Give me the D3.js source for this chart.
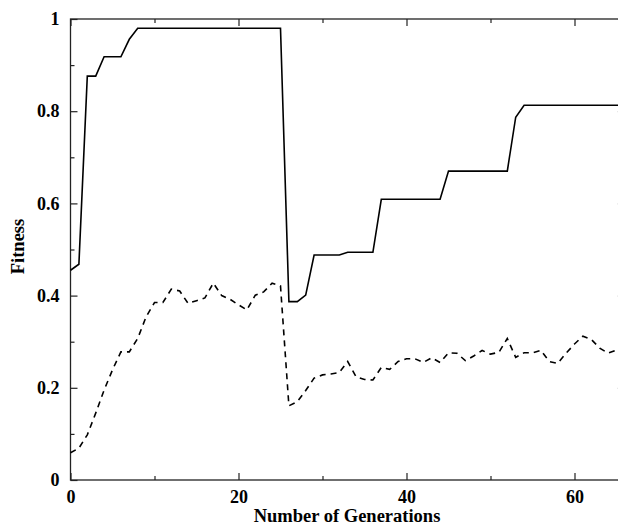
<!DOCTYPE html>
<html><head><meta charset="utf-8">
<script src="https://cdn.jsdelivr.net/npm/d3@7"></script>
<style>body{margin:0;background:#fff}svg{display:block}</style>
</head><body>
<svg id="c" width="618" height="525"></svg>
<script>
const generations = d3.range(0, 67);
const bestFitness = [0.455,0.468,0.876,0.876,0.918,0.918,0.918,0.956,0.980,0.980,
 0.980,0.980,0.980,0.980,0.980,0.980,0.980,0.980,0.980,0.980,
 0.980,0.980,0.980,0.980,0.980,0.980,0.387,0.387,0.401,0.488,
 0.488,0.488,0.488,0.494,0.494,0.494,0.494,0.609,0.609,0.609,
 0.609,0.609,0.609,0.609,0.609,0.670,0.670,0.670,0.670,0.670,
 0.670,0.670,0.670,0.787,0.813,0.813,0.813,0.813,0.813,0.813,
 0.813,0.813,0.813,0.813,0.813,0.813,0.813];
const avgFitness = [0.059,0.069,0.098,0.145,0.195,0.239,0.278,0.278,0.307,0.354,
 0.385,0.385,0.414,0.410,0.383,0.389,0.395,0.427,0.400,0.392,
 0.380,0.369,0.401,0.408,0.427,0.421,0.161,0.170,0.194,0.221,
 0.228,0.230,0.233,0.257,0.224,0.218,0.217,0.244,0.240,0.257,
 0.263,0.263,0.255,0.265,0.255,0.276,0.275,0.259,0.269,0.281,
 0.273,0.277,0.307,0.266,0.276,0.276,0.281,0.257,0.253,0.275,
 0.295,0.312,0.305,0.286,0.275,0.282,0.286];
const xMajorTicks = [0,20,40,60];
const xMinorTicks = [10,30,50];
const yMajorTicks = [0,0.2,0.4,0.6,0.8,1];
const yMinorTicks = [0.1,0.3,0.5,0.7,0.9];
const yTickLabels = ["0","0.2","0.4","0.6","0.8","1"];

const L = 70.5, T = 19, B = 480;
const x = d3.scaleLinear().domain([0, 66]).range([L, L + 66 * 8.4]);
const y = d3.scaleLinear().domain([0, 1]).range([B, T]);
const R = x(66);

const svg = d3.select("#c");
const font = "'Liberation Serif','Times New Roman',serif";

// frame
svg.append("rect").attr("x", L).attr("y", T).attr("width", R - L).attr("height", B - T)
  .attr("fill", "none").attr("stroke", "#222").attr("stroke-width", 1.3);

function styleAxis(g) {
  g.select(".domain").remove();
  g.selectAll(".tick line").attr("stroke", "#222").attr("stroke-width", 1.2);
  g.selectAll("text").attr("font-family", font).attr("font-weight", "bold")
   .attr("font-size", "18px").attr("fill", "#000");
}

// left axis
svg.append("g").attr("transform", `translate(${L},0)`)
  .call(d3.axisLeft(y).tickValues(yMajorTicks).tickFormat((d, i) => yTickLabels[i]).tickSize(-7).tickPadding(11))
  .call(styleAxis);
svg.append("g").attr("transform", `translate(${L},0)`)
  .call(d3.axisLeft(y).tickValues(yMinorTicks).tickFormat("").tickSize(-4))
  .call(styleAxis);
// right axis
svg.append("g").attr("transform", `translate(${R},0)`)
  .call(d3.axisRight(y).tickValues(yMajorTicks).tickFormat("").tickSize(-7))
  .call(styleAxis);
svg.append("g").attr("transform", `translate(${R},0)`)
  .call(d3.axisRight(y).tickValues(yMinorTicks).tickFormat("").tickSize(-4))
  .call(styleAxis);
// bottom axis
svg.append("g").attr("transform", `translate(0,${B})`)
  .call(d3.axisBottom(x).tickValues(xMajorTicks).tickFormat(d3.format("d")).tickSize(-7).tickPadding(10))
  .call(styleAxis);
svg.append("g").attr("transform", `translate(0,${B})`)
  .call(d3.axisBottom(x).tickValues(xMinorTicks).tickFormat("").tickSize(-4))
  .call(styleAxis);
// top axis
svg.append("g").attr("transform", `translate(0,${T})`)
  .call(d3.axisTop(x).tickValues(xMajorTicks).tickFormat("").tickSize(-7))
  .call(styleAxis);
svg.append("g").attr("transform", `translate(0,${T})`)
  .call(d3.axisTop(x).tickValues(xMinorTicks).tickFormat("").tickSize(-4))
  .call(styleAxis);

const line = d3.line().x((d, i) => x(generations[i])).y(d => y(d));

svg.append("path").datum(bestFitness).attr("d", line)
  .attr("fill", "none").attr("stroke", "#000").attr("stroke-width", 1.6);
svg.append("path").datum(avgFitness).attr("d", line)
  .attr("fill", "none").attr("stroke", "#000").attr("stroke-width", 1.6)
  .attr("stroke-dasharray", "6,5");

// axis titles
svg.append("text").attr("x", 347).attr("y", 522)
  .attr("text-anchor", "middle").attr("font-family", font).attr("font-weight", "bold")
  .attr("font-size", "18.5px").text("Number of Generations");
svg.append("text").attr("transform", `translate(24,${(T + B) / 2 - 3}) rotate(-90)`)
  .attr("text-anchor", "middle").attr("font-family", font).attr("font-weight", "bold")
  .attr("font-size", "18.5px").text("Fitness");
</script>
</body></html>
